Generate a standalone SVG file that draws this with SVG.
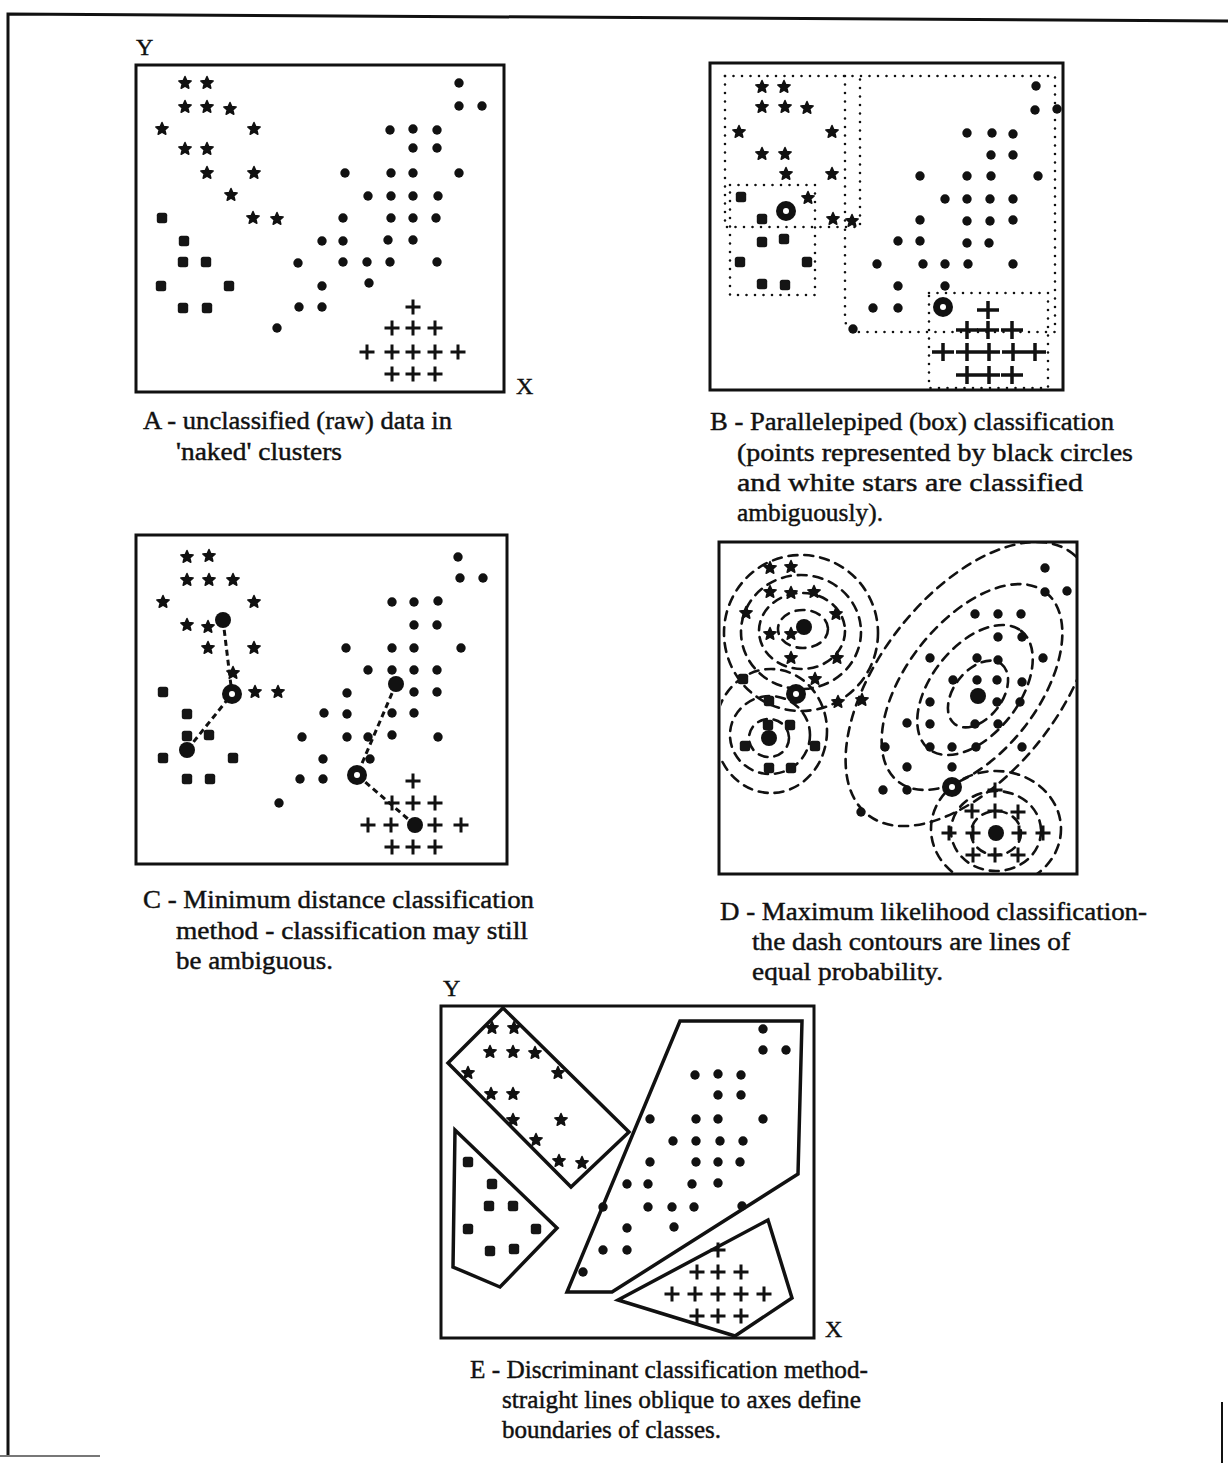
<svg xmlns="http://www.w3.org/2000/svg" xmlns:xlink="http://www.w3.org/1999/xlink" width="1228" height="1463" viewBox="0 0 1228 1463">
  <style>
    .frame { fill: none; stroke: #111; stroke-width: 3; }
    .cap { font-family: "Liberation Serif", "Times New Roman", serif; font-size: 26px; fill: #111; stroke: #111; stroke-width: 0.45; }
    .axis { font-family: "Liberation Serif", "Times New Roman", serif; font-size: 24px; fill: #111; stroke: #111; stroke-width: 0.4; }
    .box { fill: none; stroke: #111; stroke-width: 2.6; stroke-linecap: round; stroke-dasharray: 0 8.5; }
    .link { fill: none; stroke: #111; stroke-width: 3; stroke-dasharray: 6 4; }
    .contour { fill: none; stroke: #111; stroke-width: 2.6; stroke-dasharray: 9 7; stroke-linecap: round; }
    .region { fill: none; stroke: #111; stroke-width: 3.5; stroke-linejoin: miter; }
  </style>
  <defs>
    <path id="star" d="M0,-6.5 L1.76,-2.43 6.18,-2.01 2.85,0.93 3.82,5.26 0,3 -3.82,5.26 -2.85,0.93 -6.18,-2.01 -1.76,-2.43Z" fill="#111" stroke="#111" stroke-width="1.5" stroke-linejoin="round"/>
    <rect id="sq" x="-5.2" y="-5.2" width="10.4" height="10.4" rx="2.5" fill="#151515"/>
    <circle id="dot" r="4.7" fill="#111"/>
    <path id="plus" d="M-7.5,0H7.5M0,-7.5V7.5" stroke="#111" stroke-width="3"/>
    <path id="plusB" d="M-11,0H11M0,-9V9" stroke="#111" stroke-width="3.5"/>
    <circle id="mean" r="8" fill="#111"/>
    <g id="ring"><circle r="10" fill="#111"/><circle r="3" fill="#fff"/></g>
    <clipPath id="clipD"><rect x="721" y="543" width="355" height="330"/></clipPath>
  </defs>

  <rect width="1228" height="1463" fill="#fff"/>

  <!-- page border -->
  <g id="page-border" fill="none" stroke="#111">
    <path d="M8,1456 V14 L1228,21" stroke-width="3"/>
    <path d="M0,1456 H100" stroke="#777" stroke-width="2"/>
    <path d="M1222,1402 V1463" stroke-width="2"/>
  </g>

  <!-- A: raw data -->
  <g id="panel-a">
    <rect class="frame" x="136" y="65" width="368" height="327"/>
    <text class="axis" x="136" y="55">Y</text>
    <text class="axis" x="516" y="394">X</text>
    <g id="a-stars">
      <use href="#star" x="185" y="83"/><use href="#star" x="207" y="83"/>
      <use href="#star" x="185" y="107"/><use href="#star" x="207" y="107"/><use href="#star" x="230" y="109"/>
      <use href="#star" x="162" y="129"/><use href="#star" x="254" y="129"/>
      <use href="#star" x="185" y="149"/><use href="#star" x="207" y="149"/>
      <use href="#star" x="207" y="173"/><use href="#star" x="254" y="173"/>
      <use href="#star" x="231" y="195"/>
      <use href="#star" x="253" y="218"/><use href="#star" x="277" y="219"/>
    </g>
    <g id="a-squares">
      <use href="#sq" x="162" y="218"/><use href="#sq" x="184" y="241"/>
      <use href="#sq" x="183" y="262"/><use href="#sq" x="206" y="262"/>
      <use href="#sq" x="161" y="286"/><use href="#sq" x="229" y="286"/>
      <use href="#sq" x="183" y="308"/><use href="#sq" x="207" y="308"/>
    </g>
    <g id="a-dots">
      <use href="#dot" x="459" y="83"/><use href="#dot" x="459" y="106"/><use href="#dot" x="482" y="106"/>
      <use href="#dot" x="390" y="130"/><use href="#dot" x="413" y="129"/><use href="#dot" x="437" y="130"/>
      <use href="#dot" x="413" y="148"/><use href="#dot" x="437" y="148"/>
      <use href="#dot" x="345" y="173"/><use href="#dot" x="391" y="173"/><use href="#dot" x="413" y="173"/><use href="#dot" x="459" y="173"/>
      <use href="#dot" x="368" y="196"/><use href="#dot" x="391" y="196"/><use href="#dot" x="413" y="196"/><use href="#dot" x="438" y="196"/>
      <use href="#dot" x="343" y="218"/><use href="#dot" x="391" y="218"/><use href="#dot" x="413" y="218"/><use href="#dot" x="436" y="218"/>
      <use href="#dot" x="322" y="241"/><use href="#dot" x="343" y="241"/><use href="#dot" x="388" y="240"/><use href="#dot" x="413" y="240"/>
      <use href="#dot" x="298" y="263"/><use href="#dot" x="343" y="262"/><use href="#dot" x="367" y="262"/><use href="#dot" x="390" y="262"/><use href="#dot" x="437" y="262"/>
      <use href="#dot" x="322" y="286"/><use href="#dot" x="369" y="283"/>
      <use href="#dot" x="299" y="307"/><use href="#dot" x="322" y="307"/>
      <use href="#dot" x="277" y="328"/>
    </g>
    <g id="a-crosses">
      <use href="#plus" x="413" y="307"/>
      <use href="#plus" x="392" y="328"/><use href="#plus" x="413" y="328"/><use href="#plus" x="435" y="328"/>
      <use href="#plus" x="367" y="352"/><use href="#plus" x="392" y="352"/><use href="#plus" x="413" y="352"/><use href="#plus" x="435" y="352"/><use href="#plus" x="458" y="352"/>
      <use href="#plus" x="392" y="374"/><use href="#plus" x="413" y="374"/><use href="#plus" x="435" y="374"/>
    </g>
    <text class="cap" x="143" y="429" textLength="309" lengthAdjust="spacingAndGlyphs">A - unclassified (raw) data in</text>
    <text class="cap" x="176" y="460" textLength="166" lengthAdjust="spacingAndGlyphs">'naked' clusters</text>
  </g>

  <!-- B: parallelepiped boxes -->
  <g id="panel-b">
    <rect class="frame" x="710" y="63" width="353" height="327"/>
    <g id="b-boxes">
      <path class="box" d="M725,76 H1055 V332 H860 Q845,332 845,317 V227"/>
      <path class="box" d="M725,76 V227 H860 V76"/>
      <path class="box" d="M845,76 V227"/>
      <rect class="box" x="730" y="185" width="85" height="110"/>
      <rect class="box" x="929" y="293" width="119" height="95"/>
    </g>
    <g id="b-stars">
      <use href="#star" x="762" y="87"/><use href="#star" x="784" y="87"/>
      <use href="#star" x="762" y="107"/><use href="#star" x="785" y="107"/><use href="#star" x="807" y="108"/>
      <use href="#star" x="739" y="132"/><use href="#star" x="832" y="132"/>
      <use href="#star" x="762" y="154"/><use href="#star" x="785" y="154"/>
      <use href="#star" x="786" y="174"/><use href="#star" x="832" y="174"/>
      <use href="#star" x="808" y="198"/>
      <use href="#star" x="833" y="219"/><use href="#star" x="852" y="221"/>
    </g>
    <g id="b-squares">
      <use href="#sq" x="741" y="197"/><use href="#sq" x="762" y="219"/>
      <use href="#sq" x="762" y="242"/><use href="#sq" x="784" y="239"/>
      <use href="#sq" x="740" y="262"/><use href="#sq" x="807" y="262"/>
      <use href="#sq" x="762" y="284"/><use href="#sq" x="785" y="285"/>
    </g>
    <g id="b-dots">
      <use href="#dot" x="1036" y="86"/><use href="#dot" x="1035" y="110"/><use href="#dot" x="1057" y="109"/>
      <use href="#dot" x="967" y="133"/><use href="#dot" x="992" y="133"/><use href="#dot" x="1013" y="134"/>
      <use href="#dot" x="991" y="155"/><use href="#dot" x="1013" y="155"/>
      <use href="#dot" x="920" y="176"/><use href="#dot" x="967" y="176"/><use href="#dot" x="991" y="176"/><use href="#dot" x="1038" y="176"/>
      <use href="#dot" x="945" y="199"/><use href="#dot" x="967" y="199"/><use href="#dot" x="990" y="199"/><use href="#dot" x="1013" y="199"/>
      <use href="#dot" x="920" y="220"/><use href="#dot" x="967" y="221"/><use href="#dot" x="990" y="221"/><use href="#dot" x="1013" y="220"/>
      <use href="#dot" x="898" y="241"/><use href="#dot" x="920" y="241"/><use href="#dot" x="967" y="243"/><use href="#dot" x="989" y="243"/>
      <use href="#dot" x="877" y="264"/><use href="#dot" x="923" y="264"/><use href="#dot" x="945" y="264"/><use href="#dot" x="968" y="264"/><use href="#dot" x="1013" y="264"/>
      <use href="#dot" x="898" y="286"/><use href="#dot" x="945" y="286"/>
      <use href="#dot" x="873" y="308"/><use href="#dot" x="898" y="308"/>
      <use href="#dot" x="853" y="329"/>
    </g>
    <g id="b-crosses">
      <use href="#plusB" x="988" y="310"/>
      <use href="#plusB" x="967" y="330"/><use href="#plusB" x="988" y="330"/><use href="#plusB" x="1012" y="330"/>
      <use href="#plusB" x="943" y="352"/><use href="#plusB" x="967" y="352"/><use href="#plusB" x="989" y="352"/><use href="#plusB" x="1013" y="352"/><use href="#plusB" x="1035" y="352"/>
      <use href="#plusB" x="967" y="375"/><use href="#plusB" x="989" y="375"/><use href="#plusB" x="1012" y="375"/>
    </g>
    <use href="#ring" x="786" y="211"/>
    <use href="#ring" x="943" y="307"/>
    <text class="cap" x="710" y="430" textLength="404" lengthAdjust="spacingAndGlyphs">B - Parallelepiped (box) classification</text>
    <text class="cap" x="737" y="461" textLength="396" lengthAdjust="spacingAndGlyphs">(points represented by black circles</text>
    <text class="cap" x="737" y="491" textLength="346" lengthAdjust="spacingAndGlyphs">and white stars are classified</text>
    <text class="cap" x="737" y="521" textLength="146" lengthAdjust="spacingAndGlyphs">ambiguously).</text>
  </g>

  <!-- C: minimum distance -->
  <g id="panel-c">
    <rect class="frame" x="136" y="535" width="371" height="329"/>
    <g id="c-stars">
      <use href="#star" x="187" y="557"/><use href="#star" x="209" y="556"/>
      <use href="#star" x="187" y="580"/><use href="#star" x="209" y="580"/><use href="#star" x="233" y="580"/>
      <use href="#star" x="163" y="602"/><use href="#star" x="254" y="602"/>
      <use href="#star" x="187" y="625"/><use href="#star" x="208" y="627"/>
      <use href="#star" x="208" y="648"/><use href="#star" x="254" y="648"/>
      <use href="#star" x="233" y="673"/>
      <use href="#star" x="255" y="692"/><use href="#star" x="278" y="692"/>
    </g>
    <g id="c-squares">
      <use href="#sq" x="163" y="692"/><use href="#sq" x="187" y="714"/>
      <use href="#sq" x="187" y="736"/><use href="#sq" x="209" y="735"/>
      <use href="#sq" x="163" y="758"/><use href="#sq" x="233" y="758"/>
      <use href="#sq" x="187" y="779"/><use href="#sq" x="210" y="779"/>
    </g>
    <g id="c-dots">
      <use href="#dot" x="458" y="557"/><use href="#dot" x="460" y="578"/><use href="#dot" x="483" y="578"/>
      <use href="#dot" x="392" y="602"/><use href="#dot" x="414" y="602"/><use href="#dot" x="438" y="601"/>
      <use href="#dot" x="414" y="625"/><use href="#dot" x="437" y="625"/>
      <use href="#dot" x="346" y="648"/><use href="#dot" x="392" y="648"/><use href="#dot" x="414" y="648"/><use href="#dot" x="461" y="648"/>
      <use href="#dot" x="368" y="670"/><use href="#dot" x="392" y="670"/><use href="#dot" x="414" y="670"/><use href="#dot" x="437" y="670"/>
      <use href="#dot" x="347" y="693"/><use href="#dot" x="414" y="692"/><use href="#dot" x="437" y="692"/>
      <use href="#dot" x="324" y="713"/><use href="#dot" x="347" y="714"/><use href="#dot" x="392" y="713"/><use href="#dot" x="414" y="713"/>
      <use href="#dot" x="302" y="737"/><use href="#dot" x="347" y="737"/><use href="#dot" x="368" y="737"/><use href="#dot" x="392" y="735"/><use href="#dot" x="438" y="737"/>
      <use href="#dot" x="323" y="759"/><use href="#dot" x="370" y="759"/>
      <use href="#dot" x="300" y="779"/><use href="#dot" x="323" y="779"/>
      <use href="#dot" x="279" y="803"/>
    </g>
    <g id="c-crosses">
      <use href="#plus" x="413" y="781"/>
      <use href="#plus" x="392" y="803"/><use href="#plus" x="413" y="803"/><use href="#plus" x="435" y="803"/>
      <use href="#plus" x="368" y="825"/><use href="#plus" x="391" y="825"/><use href="#plus" x="435" y="825"/><use href="#plus" x="461" y="825"/>
      <use href="#plus" x="392" y="847"/><use href="#plus" x="413" y="847"/><use href="#plus" x="435" y="847"/>
    </g>
    <g id="c-links">
      <path class="link" d="M223,620 L232,694 L187,750"/>
      <path class="link" d="M396,684 L357,775 L415,825"/>
    </g>
    <use href="#mean" x="223" y="620"/><use href="#mean" x="187" y="750"/>
    <use href="#mean" x="396" y="684"/><use href="#mean" x="415" y="825"/>
    <use href="#ring" x="232" y="694"/><use href="#ring" x="357" y="775"/>
    <text class="cap" x="143" y="908" textLength="391" lengthAdjust="spacingAndGlyphs">C - Minimum distance classification</text>
    <text class="cap" x="176" y="939" textLength="352" lengthAdjust="spacingAndGlyphs">method - classification may still</text>
    <text class="cap" x="176" y="969" textLength="157" lengthAdjust="spacingAndGlyphs">be ambiguous.</text>
  </g>

  <!-- D: maximum likelihood -->
  <g id="panel-d">
    <rect class="frame" x="719" y="542" width="358" height="332"/>
    <g id="d-contours" clip-path="url(#clipD)">
      <ellipse class="contour" cx="803" cy="629" rx="25" ry="19"/>
      <ellipse class="contour" cx="802" cy="631" rx="43" ry="38"/>
      <ellipse class="contour" cx="801" cy="632" rx="60" ry="57"/>
      <ellipse class="contour" cx="801" cy="633" rx="77" ry="78"/>
      <ellipse class="contour" cx="769" cy="738" rx="20" ry="19"/>
      <ellipse class="contour" cx="770" cy="735" rx="40" ry="39"/>
      <ellipse class="contour" cx="771" cy="731" rx="56" ry="62"/>
      <ellipse class="contour" cx="978" cy="694" rx="38" ry="24" transform="rotate(-52 978 694)"/>
      <ellipse class="contour" cx="975" cy="690" rx="75" ry="44" transform="rotate(-52 975 690)"/>
      <ellipse class="contour" cx="972" cy="687" rx="120" ry="66" transform="rotate(-52 972 687)"/>
      <ellipse class="contour" cx="970" cy="684" rx="166" ry="90" transform="rotate(-52 970 684)"/>
      <ellipse class="contour" cx="996" cy="833" rx="25" ry="22"/>
      <ellipse class="contour" cx="996" cy="831" rx="45" ry="40"/>
      <ellipse class="contour" cx="996" cy="829" rx="65" ry="58"/>
    </g>
    <g id="d-stars">
      <use href="#star" x="770" y="568"/><use href="#star" x="791" y="567"/>
      <use href="#star" x="770" y="592"/><use href="#star" x="791" y="593"/><use href="#star" x="814" y="592"/>
      <use href="#star" x="746" y="613"/><use href="#star" x="836" y="614"/>
      <use href="#star" x="770" y="634"/><use href="#star" x="791" y="634"/>
      <use href="#star" x="791" y="658"/><use href="#star" x="837" y="658"/>
      <use href="#star" x="815" y="679"/>
      <use href="#star" x="838" y="702"/><use href="#star" x="862" y="700"/>
    </g>
    <g id="d-squares">
      <use href="#sq" x="743" y="679"/><use href="#sq" x="769" y="701"/>
      <use href="#sq" x="768" y="725"/><use href="#sq" x="790" y="725"/>
      <use href="#sq" x="745" y="746"/><use href="#sq" x="815" y="746"/>
      <use href="#sq" x="769" y="768"/><use href="#sq" x="791" y="768"/>
    </g>
    <g id="d-dots">
      <use href="#dot" x="1045" y="568"/><use href="#dot" x="1045" y="592"/><use href="#dot" x="1067" y="591"/>
      <use href="#dot" x="975" y="614"/><use href="#dot" x="998" y="614"/><use href="#dot" x="1021" y="614"/>
      <use href="#dot" x="998" y="637"/><use href="#dot" x="1022" y="637"/>
      <use href="#dot" x="930" y="658"/><use href="#dot" x="977" y="658"/><use href="#dot" x="998" y="660"/><use href="#dot" x="1043" y="658"/>
      <use href="#dot" x="953" y="680"/><use href="#dot" x="977" y="680"/><use href="#dot" x="997" y="680"/><use href="#dot" x="1022" y="682"/>
      <use href="#dot" x="930" y="702"/><use href="#dot" x="997" y="702"/><use href="#dot" x="1020" y="702"/>
      <use href="#dot" x="907" y="723"/><use href="#dot" x="930" y="724"/><use href="#dot" x="975" y="724"/><use href="#dot" x="998" y="724"/>
      <use href="#dot" x="885" y="747"/><use href="#dot" x="930" y="747"/><use href="#dot" x="952" y="747"/><use href="#dot" x="976" y="747"/><use href="#dot" x="1022" y="747"/>
      <use href="#dot" x="907" y="767"/><use href="#dot" x="952" y="767"/>
      <use href="#dot" x="883" y="790"/><use href="#dot" x="907" y="790"/>
      <use href="#dot" x="861" y="812"/>
    </g>
    <g id="d-crosses">
      <use href="#plus" x="995" y="790"/>
      <use href="#plus" x="972" y="811"/><use href="#plus" x="995" y="811"/><use href="#plus" x="1018" y="812"/>
      <use href="#plus" x="949" y="833"/><use href="#plus" x="973" y="833"/><use href="#plus" x="1019" y="833"/><use href="#plus" x="1043" y="833"/>
      <use href="#plus" x="973" y="855"/><use href="#plus" x="995" y="855"/><use href="#plus" x="1018" y="855"/>
    </g>
    <use href="#mean" x="804" y="627"/><use href="#mean" x="769" y="738"/>
    <use href="#mean" x="978" y="696"/><use href="#mean" x="996" y="833"/>
    <use href="#ring" x="796" y="694"/><use href="#ring" x="952" y="787"/>
    <text class="cap" x="720" y="920" textLength="427" lengthAdjust="spacingAndGlyphs">D - Maximum likelihood classification-</text>
    <text class="cap" x="752" y="950" textLength="318" lengthAdjust="spacingAndGlyphs">the dash contours are lines of</text>
    <text class="cap" x="752" y="980" textLength="191" lengthAdjust="spacingAndGlyphs">equal probability.</text>
  </g>

  <!-- E: discriminant regions -->
  <g id="panel-e">
    <rect class="frame" x="441" y="1006" width="373" height="332"/>
    <text class="axis" x="443" y="996">Y</text>
    <text class="axis" x="825" y="1337">X</text>
    <g id="e-regions">
      <polygon class="region" points="503,1008 448,1063 571,1187 629,1132"/>
      <polygon class="region" points="455,1130 557,1228 500,1287 453,1267"/>
      <polygon class="region" points="680,1021 802,1021 798,1174 612,1292 567,1292"/>
      <polygon class="region" points="618,1300 768,1220 792,1298 735,1336"/>
    </g>
    <g id="e-stars">
      <use href="#star" x="492" y="1028"/><use href="#star" x="514" y="1028"/>
      <use href="#star" x="490" y="1052"/><use href="#star" x="513" y="1052"/><use href="#star" x="535" y="1053"/>
      <use href="#star" x="468" y="1073"/><use href="#star" x="558" y="1073"/>
      <use href="#star" x="491" y="1094"/><use href="#star" x="513" y="1094"/>
      <use href="#star" x="513" y="1120"/><use href="#star" x="561" y="1120"/>
      <use href="#star" x="536" y="1140"/>
      <use href="#star" x="559" y="1161"/><use href="#star" x="582" y="1163"/>
    </g>
    <g id="e-squares">
      <use href="#sq" x="468" y="1162"/><use href="#sq" x="492" y="1184"/>
      <use href="#sq" x="489" y="1206"/><use href="#sq" x="513" y="1206"/>
      <use href="#sq" x="468" y="1229"/><use href="#sq" x="536" y="1229"/>
      <use href="#sq" x="490" y="1251"/><use href="#sq" x="514" y="1249"/>
    </g>
    <g id="e-dots">
      <use href="#dot" x="763" y="1029"/><use href="#dot" x="763" y="1050"/><use href="#dot" x="786" y="1050"/>
      <use href="#dot" x="695" y="1075"/><use href="#dot" x="718" y="1074"/><use href="#dot" x="741" y="1075"/>
      <use href="#dot" x="718" y="1095"/><use href="#dot" x="741" y="1095"/>
      <use href="#dot" x="650" y="1119"/><use href="#dot" x="696" y="1119"/><use href="#dot" x="718" y="1119"/><use href="#dot" x="763" y="1119"/>
      <use href="#dot" x="673" y="1141"/><use href="#dot" x="696" y="1141"/><use href="#dot" x="720" y="1141"/><use href="#dot" x="743" y="1141"/>
      <use href="#dot" x="650" y="1162"/><use href="#dot" x="696" y="1162"/><use href="#dot" x="718" y="1162"/><use href="#dot" x="740" y="1162"/>
      <use href="#dot" x="627" y="1184"/><use href="#dot" x="648" y="1184"/><use href="#dot" x="692" y="1184"/><use href="#dot" x="718" y="1183"/>
      <use href="#dot" x="603" y="1207"/><use href="#dot" x="648" y="1207"/><use href="#dot" x="672" y="1207"/><use href="#dot" x="694" y="1207"/><use href="#dot" x="742" y="1206"/>
      <use href="#dot" x="627" y="1228"/><use href="#dot" x="674" y="1227"/>
      <use href="#dot" x="603" y="1250"/><use href="#dot" x="627" y="1250"/>
      <use href="#dot" x="583" y="1272"/>
    </g>
    <g id="e-crosses">
      <use href="#plus" x="718" y="1250"/>
      <use href="#plus" x="697" y="1272"/><use href="#plus" x="718" y="1272"/><use href="#plus" x="741" y="1272"/>
      <use href="#plus" x="672" y="1294"/><use href="#plus" x="695" y="1294"/><use href="#plus" x="718" y="1294"/><use href="#plus" x="741" y="1294"/><use href="#plus" x="764" y="1294"/>
      <use href="#plus" x="697" y="1316"/><use href="#plus" x="718" y="1316"/><use href="#plus" x="741" y="1316"/>
    </g>
    <text class="cap" x="470" y="1378" textLength="398" lengthAdjust="spacingAndGlyphs">E - Discriminant classification method-</text>
    <text class="cap" x="502" y="1408" textLength="359" lengthAdjust="spacingAndGlyphs">straight lines oblique to axes define</text>
    <text class="cap" x="502" y="1438" textLength="219" lengthAdjust="spacingAndGlyphs">boundaries of classes.</text>
  </g>
</svg>
